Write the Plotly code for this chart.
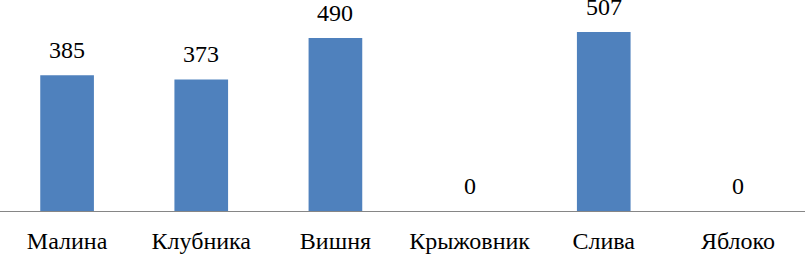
import plotly.graph_objects as go

categories = ["Малина", "Клубника", "Вишня", "Крыжовник", "Слива", "Яблоко"]
values = [385, 373, 490, 0, 507, 0]
value_labels = [str(v) for v in values]

FONT = "'Times New Roman', 'Liberation Serif', 'DejaVu Serif', serif"

fig = go.Figure()
fig.add_trace(go.Bar(
    x=categories, y=values,
    marker=dict(color="#4F81BD", line=dict(width=0)),
    hoverinfo="skip",
))

for c, v, t in zip(categories, values, value_labels):
    fig.add_annotation(
        x=c, y=v, text=t, showarrow=False,
        yanchor="bottom", yshift=10,
        font=dict(family=FONT, size=24, color="#000000"),
    )

fig.update_layout(
    width=805, height=256,
    margin=dict(l=0, r=0, t=0, b=45, autoexpand=False),
    paper_bgcolor="white", plot_bgcolor="white",
    bargap=0.6,
    showlegend=False,
    font=dict(family=FONT),
    xaxis=dict(
        showline=True, linecolor="#868686", linewidth=1,
        ticks="outside", ticklen=8, tickcolor="rgba(0,0,0,0)",
        tickfont=dict(family=FONT, size=24, color="#000000"),
        showgrid=False, zeroline=False, automargin=False,
    ),
    yaxis=dict(
        range=[0, 598], visible=False, showgrid=False, zeroline=False,
    ),
)

fig.write_html(
    "out.html",
    config={"displayModeBar": False},
    post_script="document.body.style.margin='0';document.body.style.overflow='hidden';",
)
